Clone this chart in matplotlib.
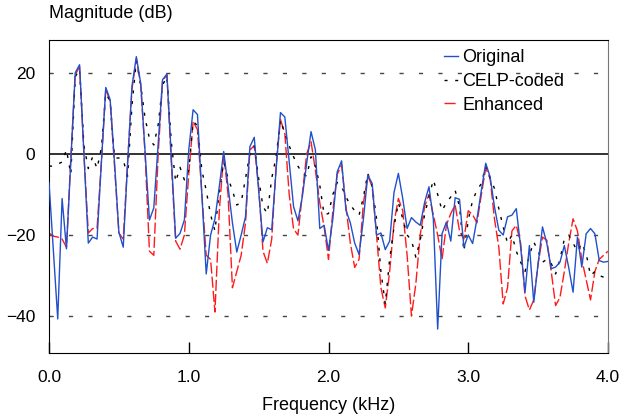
import numpy as np
import matplotlib
matplotlib.use("Agg")
import matplotlib.pyplot as plt

plt.rcParams["font.family"] = ["Liberation Sans", "DejaVu Sans"]

# 129 FFT bins from 0 to 4 kHz
freq_khz = np.linspace(0.0, 4.0, 129)

original = [
    -7, -24, -40.7, -11, -23.4, -1.7, 20, 22, 0, -22,
    -20.5, -21, -2, 16.4, 13.4, -2, -19.3, -23, -2.3, 16.7,
    24, 17.4, 0.5, -16.3, -13.3, 2.5, 18.3, 19.7, -0.5, -20.8,
    -19.6, -16.3, 1, 10.9, 9.7, -10, -29.6, -20, -16, -8,
    0.6, -8, -17, -24.2, -20, -15.5, 1.8, 4.1, -9, -21.7,
    -18.2, -18.7, -4, 10.2, 9.1, -2, -13, -16.5, -10.6, -2.3,
    5.5, 1, -18.4, -17.6, -23.8, -16, -4.4, -1.7, -13.9, -17,
    -22, -24.8, -16, -5.2, -7.3, -20, -19.5, -23.6, -21.5, -9.5,
    -4.8, -11, -18.4, -15.7, -16.8, -17.6, -12, -8.1, -16, -43.2,
    -19.7, -16.8, -21.5, -10.8, -11.2, -23, -20, -22.1, -16, -9,
    -2.3, -5.6, -13, -18.8, -20, -15.5, -15.1, -13.5, -23, -34.1,
    -22.6, -36.6, -27, -18, -22.1, -28.3, -27.9, -26.7, -22.6, -28,
    -34.1, -20.5, -27.9, -19.7, -18.4, -19.7, -26.3, -26.7, -26.5,
]

celp = [
    -3, -3, -2.5, -2, 1, -5, 19, 21, 2, -3.6,
    -0.7, -3.6, 1.5, 15, 13, -1, -1, -1.5, -5.5, 12,
    23, 17, 8.8, 3.8, 2.2, 7.2, 17, 19, 3, -6.9,
    -3.3, -6.4, -4, 8, 7, -4, -9, -15, -19, -9,
    -2, -6, -9, -12.6, -12, -6, 0, 2, -6, -13,
    -14.7, -6, -0.7, 8.4, 5, 2, -0.7, -3, -4.8, -5.5,
    -0.7, -3, -7.7, -15, -14.7, -10, -7, -8, -10.6, -12.6,
    -14, -15.1, -10.6, -4.8, -8, -16, -29, -37, -26, -18,
    -12, -16, -20, -21.3, -25.5, -21.3, -15, -10.6, -6.4, -10,
    -14, -12, -10.6, -9, -13, -24, -16.4, -11.4, -9, -7.3,
    -3, -6, -8.5, -13.5, -18, -22, -20, -24, -26.7, -29,
    -25, -21.7, -24, -26.7, -26, -27, -29.6, -26, -21, -20,
    -22, -24, -22, -24.6, -30, -29, -30, -30.4, -30,
]

enhanced = [
    -19.5, -20.3, -20.5, -21, -23, -1, 19.5, 21.5, 0, -19.5,
    -18.4, -18.4, -2, 16, 13, -3, -19.5, -21, -2, 16,
    23.5, 17, 0, -24, -25, 0, 18, 19.5, -2, -21.5,
    -23.5, -20, -5, 8, 6, -10, -25, -26, -39, -14,
    0, -10, -33, -29, -25, -17, 1, 2, -8, -24,
    -27, -21, -3, 8.5, 5, -10, -18.5, -20, -10, 0,
    3, -4, -12, -18, -26, -14, -5, -2.7, -13, -22,
    -28, -26, -12, -5.5, -8, -20, -33, -38, -29, -17,
    -11, -14, -25, -40, -32, -20, -13, -10, -15, -20,
    -26, -17.5, -14.7, -12.6, -19, -21, -14, -15, -17, -10,
    -3.5, -6, -16, -23, -37, -33, -19, -17.6, -22, -35,
    -38.5, -36, -27, -20.5, -21.3, -29, -37.4, -35.4, -29, -22,
    -16, -19, -26, -31, -36, -29, -26, -25, -24,
]

x_ticks = [0.0, 1.0, 2.0, 3.0, 4.0]
y_ticks = [20, 0, -20, -40]

fig = plt.figure(figsize=(6.34, 4.18), dpi=100)
ax = fig.add_axes([49 / 634, 65 / 418, 559 / 634, 313 / 418])

# reference lines
for yv in [20, -20, -40]:
    ax.axhline(yv, color="#444444", lw=1.0, dashes=(3, 11), zorder=1)
ax.axhline(0, color="#222222", lw=1.3, zorder=1)

ax.plot(freq_khz, celp, color="black", lw=1.0, dashes=(2.2, 5.5),
        label="CELP-coded", zorder=3)
ax.plot(freq_khz, enhanced, color="#ff1a1a", lw=1.0, dashes=(8, 2.2),
        label="Enhanced", zorder=2)
ax.plot(freq_khz, original, color="#2050cc", lw=1.0, label="Original", zorder=4)

ax.set_xlim(0, 4)
ax.set_ylim(-49.1, 28.1)
ax.set_xticks(x_ticks)
ax.set_xticklabels([f"{v:.1f}" for v in x_ticks])
ax.set_yticks(y_ticks)
ax.tick_params(axis="x", direction="in", length=8, width=1, pad=12, labelsize=12.5)
ax.tick_params(axis="y", length=0, pad=10, labelsize=12.5)
for s in ["left", "bottom", "top"]:
    ax.spines[s].set_color("black")
ax.spines["right"].set_color("#777777")

ax.set_xlabel("Frequency (kHz)", fontsize=13, labelpad=9)
fig.text(49 / 634, 1 - 14 / 418, "Magnitude (dB)", fontsize=13, ha="left", va="center")

h, l = ax.get_legend_handles_labels()
order = [2, 0, 1]
ax.legend([h[i] for i in order], [l[i] for i in order], loc="upper left",
          bbox_to_anchor=(386 / 559, 1.0), frameon=False, fontsize=13,
          handlelength=0.8, handletextpad=0.2, labelspacing=0.38, borderpad=0.0)

plt.savefig("out.png", dpi=100)
